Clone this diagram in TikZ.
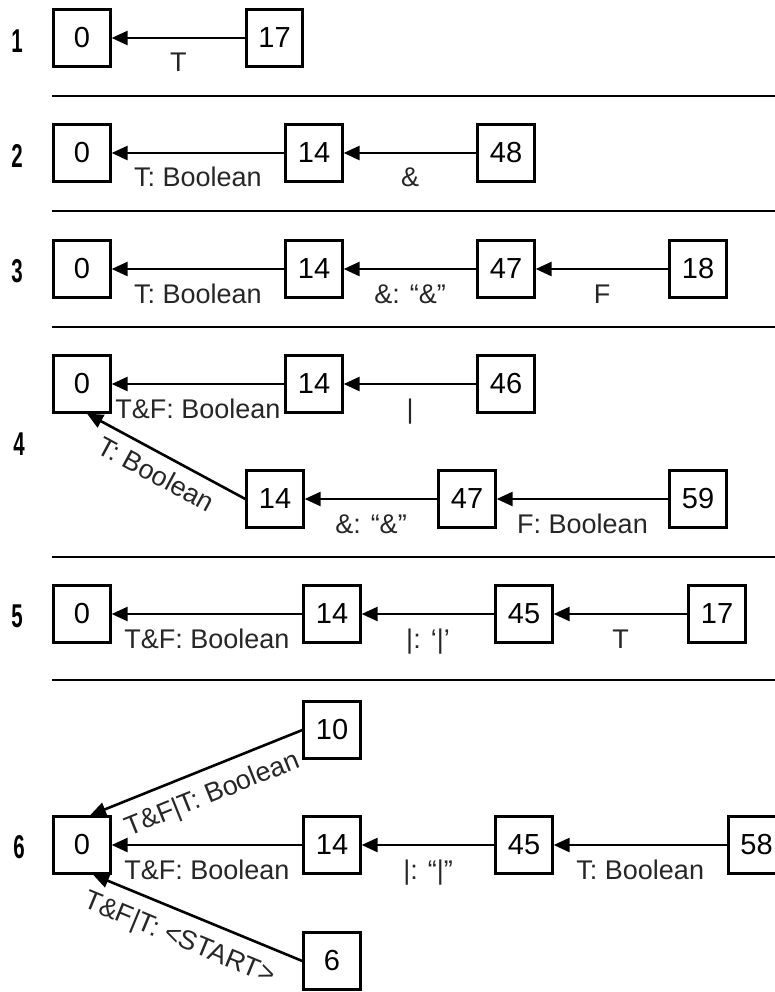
\documentclass[tikz,border=0pt]{standalone}
\usepackage{fontspec}
\setmainfont{Liberation Sans}
\usetikzlibrary{arrows.meta}
\begin{document}
\begin{tikzpicture}[x=1pt,y=-1pt,
  box/.style={draw,line width=2.8pt,minimum width=56.5pt,minimum height=56.5pt,inner sep=0pt,font=\fontsize{29}{31}\selectfont},
  edge/.style={line width=2.6pt,-{Triangle[length=16pt,width=14pt]}},
  redge/.style={line width=2.6pt,{Triangle[length=16pt,width=14pt]}-},
  lbl/.style={font=\fontsize{27}{29}\selectfont,text=black!85,anchor=base,yshift=-34pt,inner sep=0pt},
  slbl/.style={font=\fontsize{27}{29}\selectfont,text=black!85,sloped,below,inner sep=11pt},
  num/.style={font=\fontsize{33}{35}\selectfont\bfseries,xscale=0.62},
  sepline/.style={line width=2pt}]
\useasboundingbox (0,0) rectangle (775,992);
% separators
\coordinate (s1a) at (52,96);  \coordinate (s1b) at (775,96);
\coordinate (s2a) at (52,211); \coordinate (s2b) at (775,211);
\coordinate (s3a) at (52,327); \coordinate (s3b) at (775,327);
\coordinate (s4a) at (52,557); \coordinate (s4b) at (775,557);
\coordinate (s5a) at (52,680); \coordinate (s5b) at (775,680);
\foreach \i in {1,...,5} {\draw[sepline] (s\i a) -- (s\i b);}
% section numbers
\node[num] (l1) at (17,41) {1};
\node[num] (l2) at (17,156) {2};
\node[num] (l3) at (17,271) {3};
\node[num] (l4) at (19,444) {4};
\node[num] (l5) at (17,616) {5};
\node[num] (l6) at (19,847) {6};
% row 1
\node[box] (a0) at (82,38) {0};
\node[box] (a17) at (274.5,38) {17};
\draw[edge] (a17) -- node[lbl] {T} (a0);
% row 2
\node[box] (b0) at (82,153) {0};
\node[box] (b14) at (314,153) {14};
\node[box] (b48) at (506,153) {48};
\draw[edge] (b14) -- node[lbl] {T: Boolean} (b0);
\draw[edge] (b48) -- node[lbl] {\&} (b14);
% row 3
\node[box] (c0) at (82,269) {0};
\node[box] (c14) at (314,269) {14};
\node[box] (c47) at (506,269) {47};
\node[box] (c18) at (698,269) {18};
\draw[edge] (c14) -- node[lbl] {T: Boolean} (c0);
\draw[edge] (c47) -- node[lbl] {\&: “\&”} (c14);
\draw[edge] (c18) -- node[lbl] {F} (c47);
% row 4
\node[box] (d0) at (82,384) {0};
\node[box] (d14) at (314,384) {14};
\node[box] (d46) at (506,384) {46};
\node[box] (e14) at (275,499) {14};
\node[box] (e47) at (467,499) {47};
\node[box] (e59) at (698,499) {59};
\draw[edge] (d14) -- node[lbl] {T\&F: Boolean} (d0);
\draw[edge] (d46) -- node[lbl] {|} (d14);
\draw[edge] (e47) -- node[lbl] {\&: “\&”} (e14);
\draw[edge] (e59) -- node[lbl] {F: Boolean} (e47);
\draw[redge] ([xshift=5pt]d0.south) -- node[slbl,pos=0.5,inner sep=9pt] {T: Boolean} (e14.west);
% row 5
\node[box] (f0) at (82,614) {0};
\node[box] (f14) at (332,614) {14};
\node[box] (f45) at (524,614) {45};
\node[box] (f17) at (717,614) {17};
\draw[edge] (f14) -- node[lbl] {T\&F: Boolean} (f0);
\draw[edge] (f45) -- node[lbl] {|: ‘|’} (f14);
\draw[edge] (f17) -- node[lbl] {T} (f45);
% row 6
\node[box] (g0) at (82,845) {0};
\node[box] (g14) at (332,845) {14};
\node[box] (g45) at (524,845) {45};
\node[box] (g58) at (756.5,845) {58};
\node[box] (g10) at (332,730) {10};
\node[box] (g6) at (332,961) {6};
\draw[edge] (g14) -- node[lbl] {T\&F: Boolean} (g0);
\draw[edge] (g45) -- node[lbl] {|: “|”} (g14);
\draw[edge] (g58) -- node[lbl] {T: Boolean} (g45);
\draw[redge] ([xshift=8pt]g0.north) -- node[slbl,pos=0.53,inner sep=13pt] {T\&F|T: Boolean} (g10.west);
\draw[redge] ([xshift=11pt]g0.south) -- node[slbl,pos=0.46,inner sep=13pt] {T\&F|T: <START>} (g6.west);
\end{tikzpicture}
\end{document}
